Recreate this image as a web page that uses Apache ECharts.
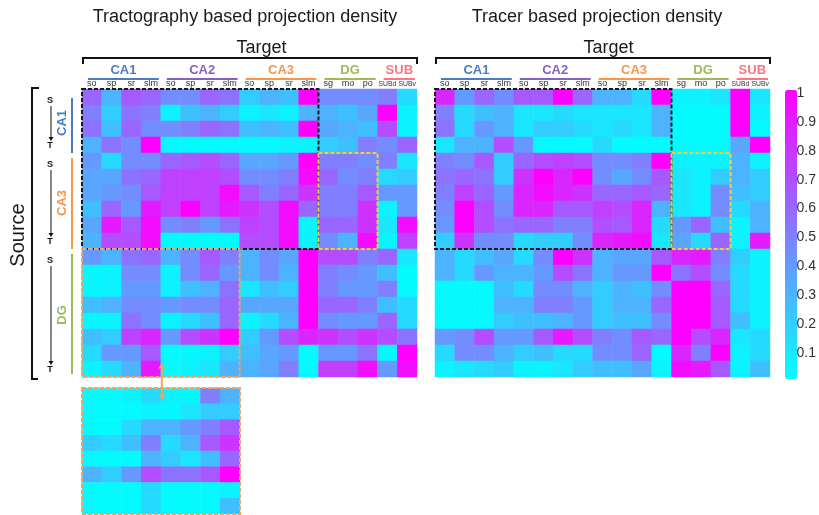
<!DOCTYPE html>
<html>
<head>
<meta charset="utf-8">
<script src="https://cdn.jsdelivr.net/npm/echarts@6/dist/echarts.min.js"></script>
<style>
  html, body { margin: 0; padding: 0; background: #fff; }
  #chart { width: 819px; height: 515px; }
</style>
</head>
<body>
<div id="chart"></div>
<script>
// ---- data -------------------------------------------------------------
// target sub-regions (columns)
const COLS = ['so','sp','sr','slm','so','sp','sr','slm','so','sp','sr','slm','sg','mo','po','SUBd','SUBv'];
// target groups: name, first column, last column
const TARGET_GROUPS = [['CA1',0,3],['CA2',4,7],['CA3',8,11],['DG',12,14],['SUB',15,16]];
// source groups: name, first row, last row (ordered S -> T)
const SOURCE_GROUPS = [['CA1',0,3],['CA3',4,9],['DG',10,17]];
// colour bar tick labels
const COLORBAR_TICKS = [0.1,0.2,0.3,0.4,0.5,0.6,0.7,0.8,0.9,1];

// normalised projection density, rows = source, columns = target
const TRACTOGRAPHY = [
  [0.60,0.30,0.65,0.60,0.45,0.45,0.60,0.55,0.20,0.30,0.25,1.00,0.45,0.45,0.45,0.50,0.15],
  [0.50,0.20,0.55,0.50,0.05,0.25,0.30,0.20,0.05,0.10,0.05,0.30,0.30,0.25,0.35,1.00,0.05],
  [0.55,0.25,0.60,0.45,0.45,0.50,0.60,0.55,0.25,0.30,0.25,1.00,0.35,0.30,0.25,0.70,0.05],
  [0.30,0.55,0.45,1.00,0.02,0.02,0.02,0.02,0.02,0.02,0.05,0.05,0.20,0.25,0.50,0.45,0.60],
  [0.40,0.15,0.45,0.45,0.60,0.65,0.70,0.60,0.35,0.35,0.40,1.00,0.50,0.50,0.45,0.50,0.10],
  [0.35,0.35,0.55,0.60,0.75,0.75,0.75,0.70,0.45,0.45,0.50,0.95,0.60,0.45,0.50,0.15,0.20],
  [0.35,0.40,0.45,0.65,0.75,0.75,0.75,0.95,0.65,0.50,0.60,0.80,0.50,0.50,0.65,0.40,0.40],
  [0.25,0.60,0.40,0.90,0.75,1.00,0.75,0.90,0.80,0.70,0.95,0.60,0.50,0.50,0.80,0.05,0.40],
  [0.35,0.90,0.65,0.95,0.45,0.50,0.40,0.55,0.75,0.70,0.95,0.05,0.60,0.60,0.80,0.10,0.95],
  [0.30,0.70,0.70,0.95,0.02,0.02,0.02,0.02,0.70,0.70,0.95,0.05,0.45,0.30,0.95,0.05,0.75],
  [0.40,0.30,0.55,0.60,0.30,0.45,0.65,0.50,0.30,0.45,0.35,1.00,0.70,0.70,0.50,0.60,0.10],
  [0.03,0.05,0.45,0.45,0.05,0.45,0.60,0.40,0.30,0.45,0.30,1.00,0.50,0.45,0.40,0.25,0.02],
  [0.03,0.05,0.40,0.40,0.05,0.25,0.30,0.55,0.10,0.25,0.20,1.00,0.50,0.40,0.40,0.50,0.02],
  [0.25,0.30,0.45,0.45,0.40,0.45,0.45,0.60,0.35,0.35,0.35,1.00,0.60,0.60,0.50,0.25,0.15],
  [0.03,0.05,0.55,0.45,0.05,0.15,0.25,0.60,0.05,0.15,0.30,1.00,0.45,0.40,0.40,0.60,0.15],
  [0.25,0.20,0.75,0.85,0.40,0.70,0.80,1.00,0.20,0.40,0.70,0.85,0.80,0.70,0.80,0.70,0.55],
  [0.15,0.40,0.40,0.65,0.02,0.03,0.05,0.20,0.25,0.35,0.40,0.02,0.40,0.40,0.55,0.03,1.00],
  [0.05,0.15,0.30,0.90,0.02,0.05,0.10,0.30,0.30,0.35,0.50,0.02,0.75,0.75,0.95,0.40,0.95]
];

const TRACER = [
  [0.85,0.40,0.60,0.45,0.65,0.65,1.00,0.60,0.30,0.30,0.15,1.00,0.05,0.05,0.10,1.00,0.10],
  [0.50,0.15,0.25,0.30,0.10,0.10,0.15,0.10,0.10,0.10,0.10,0.30,0.02,0.02,0.02,1.00,0.05],
  [0.55,0.15,0.40,0.30,0.10,0.20,0.20,0.15,0.10,0.15,0.10,0.30,0.02,0.02,0.02,1.00,0.02],
  [0.10,0.30,0.30,0.70,0.40,0.02,0.02,0.02,0.15,0.02,0.02,0.02,0.02,0.02,0.02,0.35,1.00],
  [0.50,0.45,0.65,0.20,0.60,0.70,0.75,0.70,0.45,0.45,0.50,1.00,0.05,0.05,0.05,0.30,0.05],
  [0.55,0.60,0.55,0.20,0.80,1.00,0.85,1.00,0.45,0.35,0.45,0.65,0.10,0.05,0.20,0.30,0.20],
  [0.50,0.75,0.60,0.40,0.85,0.95,0.85,0.80,0.60,0.60,0.65,0.60,0.10,0.05,0.45,0.25,0.20],
  [0.45,1.00,0.70,0.45,0.85,0.85,0.65,0.65,0.75,0.70,0.85,0.30,0.10,0.05,0.45,0.15,0.30],
  [0.40,1.00,0.70,0.55,0.60,0.60,0.50,0.50,0.70,0.65,0.85,0.15,0.40,0.60,0.25,0.05,0.30],
  [0.20,0.80,0.45,0.45,0.15,0.20,0.20,0.45,0.85,0.90,0.95,0.10,0.35,0.15,0.60,0.05,0.90],
  [0.30,0.15,0.25,0.35,0.15,0.45,1.00,0.80,0.30,0.35,0.35,0.65,0.85,0.90,0.50,0.20,0.05],
  [0.30,0.15,0.40,0.30,0.30,0.40,0.70,0.55,0.30,0.40,0.40,1.00,0.55,0.70,0.45,0.15,0.05],
  [0.02,0.02,0.02,0.25,0.15,0.45,0.45,0.30,0.20,0.30,0.25,0.45,1.00,1.00,0.60,0.15,0.05],
  [0.02,0.02,0.02,0.30,0.30,0.50,0.50,0.40,0.20,0.30,0.30,0.60,1.00,1.00,0.65,0.15,0.05],
  [0.02,0.02,0.02,0.20,0.25,0.25,0.30,0.40,0.20,0.25,0.25,0.45,1.00,1.00,0.65,0.25,0.05],
  [0.40,0.45,0.70,0.40,0.40,0.65,0.90,0.70,0.50,0.45,0.65,0.60,1.00,0.70,0.85,0.10,0.15],
  [0.15,0.45,0.45,0.30,0.20,0.25,0.15,0.15,0.45,0.45,0.60,0.02,0.85,0.50,1.00,0.05,0.15],
  [0.05,0.10,0.15,0.20,0.05,0.05,0.10,0.20,0.25,0.25,0.35,0.05,0.95,0.90,0.65,0.05,0.25]
];

// DG -> CA1/CA2 block, rescaled for the enlarged view
const DG_TO_CA1_CA2 = [
  [0.02,0.02,0.05,0.15,0.05,0.03,0.50,0.30],
  [0.02,0.02,0.02,0.05,0.03,0.10,0.20,0.20],
  [0.02,0.02,0.15,0.30,0.30,0.40,0.50,0.65],
  [0.20,0.15,0.25,0.50,0.15,0.30,0.65,0.80],
  [0.02,0.02,0.02,0.30,0.20,0.10,0.25,0.60],
  [0.30,0.20,0.40,0.70,0.55,0.55,0.65,1.00],
  [0.02,0.02,0.02,0.15,0.02,0.02,0.02,0.05],
  [0.02,0.02,0.02,0.15,0.02,0.02,0.02,0.25]
];

// ---- layout & style ---------------------------------------------------
const FONT = '"Liberation Sans", Arial, sans-serif';
const SMALL_FONT = '"Liberation Sans Narrow", "Liberation Sans", Arial, sans-serif';
const GROUP_COLORS = { CA1: '#4a7dc0', CA2: '#8661c1', CA3: '#f79646', DG: '#9bbb59', SUB: '#ff7480' };
const MAP_LEFT  = { left: 82,  top: 89, width: 335, height: 288 };
const MAP_RIGHT = { left: 435, top: 89, width: 335, height: 288 };
const MAP_INSET = { left: 82,  top: 388, width: 158, height: 126 };
const BAR       = { left: 785, top: 90, width: 12, height: 289 };
const BAR_AXIS  = { left: 785, top: 93, width: 12, height: 289 };
const BOX_BLACK = '#1a1a1a', BOX_YELLOW = '#f2cf3a', BOX_ORANGE = '#f3a35c';

const nCols = COLS.length, nRows = TRACTOGRAPHY.length;
const colIds = COLS.map((c, i) => i + ':' + c);
const rowIds = TRACTOGRAPHY.map((_, i) => 'r' + i);

function toCells(matrix) {
  const out = [];
  matrix.forEach((row, r) => row.forEach((v, c) => out.push([c, r, v])));
  return out;
}

function mapAxes(gridIndex) {
  return {
    x: {
      type: 'category', gridIndex, data: colIds, position: 'top',
      axisLine: { show: false }, axisTick: { show: false }, splitLine: { show: false },
      axisLabel: {
        interval: 0, margin: 1, fontSize: 9, color: '#333', fontFamily: SMALL_FONT,
        // the two subiculum labels are longer, so they get a smaller face
        formatter: (v, i) => COLS[i].length > 3 ? '{s|' + COLS[i] + '}' : COLS[i],
        rich: { s: { fontSize: 6.8, fontFamily: SMALL_FONT, color: '#333' } }
      }
    },
    y: {
      type: 'category', gridIndex, data: rowIds, inverse: true, show: false
    }
  };
}

const ax0 = mapAxes(0), ax1 = mapAxes(1);

function heat(xi, yi, data) {
  return {
    type: 'heatmap', xAxisIndex: xi, yAxisIndex: yi, data,
    itemStyle: { borderWidth: 0 }, emphasis: { disabled: true }, silent: true, z: 2
  };
}

const chart = echarts.init(document.getElementById('chart'), null, { renderer: 'canvas' });

// ---- annotation helpers ----------------------------------------------
function cellRect(layout, cols, rows, c0, c1, r0, r1) {
  const cw = layout.width / cols, rh = layout.height / rows;
  return {
    x: layout.left + c0 * cw, y: layout.top + r0 * rh,
    width: (c1 - c0 + 1) * cw, height: (r1 - r0 + 1) * rh
  };
}
function dashedBox(rect, color) {
  return {
    type: 'rect', z: 100, shape: rect,
    style: { fill: null, stroke: color, lineWidth: 2, lineDash: [4, 2] }
  };
}
function text(str, x, y, opt) {
  return Object.assign({
    type: 'text', z: 100, x, y,
    style: Object.assign({ text: str, align: 'center', verticalAlign: 'middle',
      font: '18px ' + FONT, fill: '#1a1a1a' }, (opt && opt.style) || {})
  }, opt && opt.rotation ? { rotation: opt.rotation } : {});
}
function line(x1, y1, x2, y2, color, w) {
  return { type: 'line', z: 100, shape: { x1, y1, x2, y2 }, style: { stroke: color, lineWidth: w || 2 } };
}
function polyline(points, color, w) {
  return { type: 'polyline', z: 100, shape: { points }, style: { stroke: color, lineWidth: w || 2, fill: null } };
}
function arrowHead(x, y, dir, color, size) {
  const s = size || 4;
  const pts = dir > 0
    ? [[x - s, y - s * 1.6], [x + s, y - s * 1.6], [x, y]]
    : [[x - s, y + s * 1.6], [x + s, y + s * 1.6], [x, y]];
  return { type: 'polygon', z: 100, shape: { points: pts }, style: { fill: color } };
}

function targetHeader(layout, title, titleX, targetShift) {
  const els = [];
  const cw = layout.width / nCols;
  const right = layout.left + layout.width;
  els.push(text(title, titleX, 17));
  els.push(text('Target', (layout.left + right) / 2 + targetShift, 48));
  els.push(polyline([[layout.left + 1, 64], [layout.left + 1, 58], [right, 58], [right, 64]], '#111', 2));
  TARGET_GROUPS.forEach(([name, c0, c1]) => {
    const x0 = layout.left + c0 * cw + 6, x1 = layout.left + (c1 + 1) * cw - 2;
    const col = GROUP_COLORS[name];
    els.push(line(x0, 79, x1, 79, col, 2));
    els.push(text(name, (x0 + x1) / 2, 70, { style: { font: 'bold 13px ' + FONT, fill: col } }));
  });
  return els;
}

function sourceSide(layout) {
  const els = [];
  const rh = layout.height / nRows;
  const top = layout.top, bottom = layout.top + layout.height;
  els.push(text('Source', 18, (top + bottom) / 2 + 2, { rotation: Math.PI / 2, style: { font: '20px ' + FONT } }));
  els.push(polyline([[39, top - 1], [32, top - 1], [32, bottom + 2], [38, bottom + 2]], '#111', 2));
  SOURCE_GROUPS.forEach(([name, r0, r1], gi) => {
    const y0 = top + r0 * rh, y1 = top + (r1 + 1) * rh;
    const col = GROUP_COLORS[name];
    const sY = y0 + 12, tY = y1 - 7;
    els.push(text('S', 50, sY, { style: { font: 'bold 9px ' + FONT, fill: '#111' } }));
    els.push(text('T', 50, tY, { style: { font: 'bold 9px ' + FONT, fill: '#111' } }));
    els.push(line(51, sY + 5, 51, tY - 8, '#111', 1));
    els.push(arrowHead(51, tY - 5, 1, '#111', 2.5));
    els.push(line(72, y0 + (gi === 0 ? 9 : 5), 72, y1 - (gi === 2 ? 3 : 0), col, 2));
    els.push(text(name, 62, (y0 + y1) / 2 + 2, { rotation: Math.PI / 2, style: { font: 'bold 13px ' + FONT, fill: col } }));
  });
  return els;
}

const graphics = [].concat(
  targetHeader(MAP_LEFT, 'Tractography based projection density', 245, 12),
  targetHeader(MAP_RIGHT, 'Tracer based projection density', 597, 6),
  sourceSide(MAP_LEFT),
  [
    // CA1/CA3 sources onto hippocampal targets
    dashedBox(cellRect(MAP_LEFT, nCols, nRows, 0, 11, 0, 9), BOX_BLACK),
    dashedBox(cellRect(MAP_RIGHT, nCols, nRows, 0, 11, 0, 9), BOX_BLACK),
    // CA3 -> DG
    dashedBox(cellRect(MAP_LEFT, nCols, nRows, 12, 14, 4, 9), BOX_YELLOW),
    dashedBox(cellRect(MAP_RIGHT, nCols, nRows, 12, 14, 4, 9), BOX_YELLOW),
    // DG -> CA1/CA2 and its enlarged view
    dashedBox(cellRect(MAP_LEFT, nCols, nRows, 0, 7, 10, 17), BOX_ORANGE),
    dashedBox(cellRect(MAP_INSET, 8, 8, 0, 7, 0, 7), BOX_ORANGE)
  ]
);
(function linkArrow() {
  const x = MAP_LEFT.left + 4 * (MAP_LEFT.width / nCols) + 1;
  const y0 = MAP_LEFT.top + MAP_LEFT.height - 14, y1 = MAP_INSET.top + 12;
  graphics.push(line(x, y0 + 4, x, y1 - 4, BOX_ORANGE, 2));
  graphics.push(arrowHead(x, y0, -1, BOX_ORANGE, 3.5));
  graphics.push(arrowHead(x, y1, 1, BOX_ORANGE, 3.5));
})();

chart.setOption({
  backgroundColor: '#fff',
  animation: false,
  grid: [
    Object.assign({ containLabel: false }, MAP_LEFT),
    Object.assign({ containLabel: false }, MAP_RIGHT),
    Object.assign({ containLabel: false }, MAP_INSET),
    Object.assign({ containLabel: false }, BAR_AXIS)
  ],
  xAxis: [
    ax0.x, ax1.x,
    { type: 'category', gridIndex: 2, data: DG_TO_CA1_CA2[0].map((_, i) => 'c' + i), show: false },
    { type: 'category', gridIndex: 3, data: ['bar'], show: false }
  ],
  yAxis: [
    ax0.y, ax1.y,
    { type: 'category', gridIndex: 2, data: DG_TO_CA1_CA2.map((_, i) => 'r' + i), inverse: true, show: false },
    {
      type: 'value', gridIndex: 3, min: 0, max: 1, interval: 0.1, position: 'right',
      axisLine: { show: false }, axisTick: { show: false }, splitLine: { show: false },
      axisLabel: {
        margin: 4, fontSize: 14, color: '#333', fontFamily: FONT,
        formatter: v => {
          const t = COLORBAR_TICKS.find(k => Math.abs(k - v) < 1e-6);
          return t === undefined ? '' : (t === 1 ? '1' : t.toFixed(1));
        }
      }
    }
  ],
  visualMap: {
    type: 'continuous', min: 0, max: 1, seriesIndex: [0, 1, 2],
    inRange: { color: ['#00ffff', '#ff00ff'] },
    orient: 'vertical', left: BAR.left, top: BAR.top, padding: 0,
    itemWidth: BAR.width, itemHeight: BAR.height,
    calculable: false, text: null, hoverLink: false, showLabel: false
  },
  series: [
    heat(0, 0, toCells(TRACTOGRAPHY)),
    heat(1, 1, toCells(TRACER)),
    heat(2, 2, toCells(DG_TO_CA1_CA2))
  ],
  graphic: { elements: graphics }
});
</script>
</body>
</html>
